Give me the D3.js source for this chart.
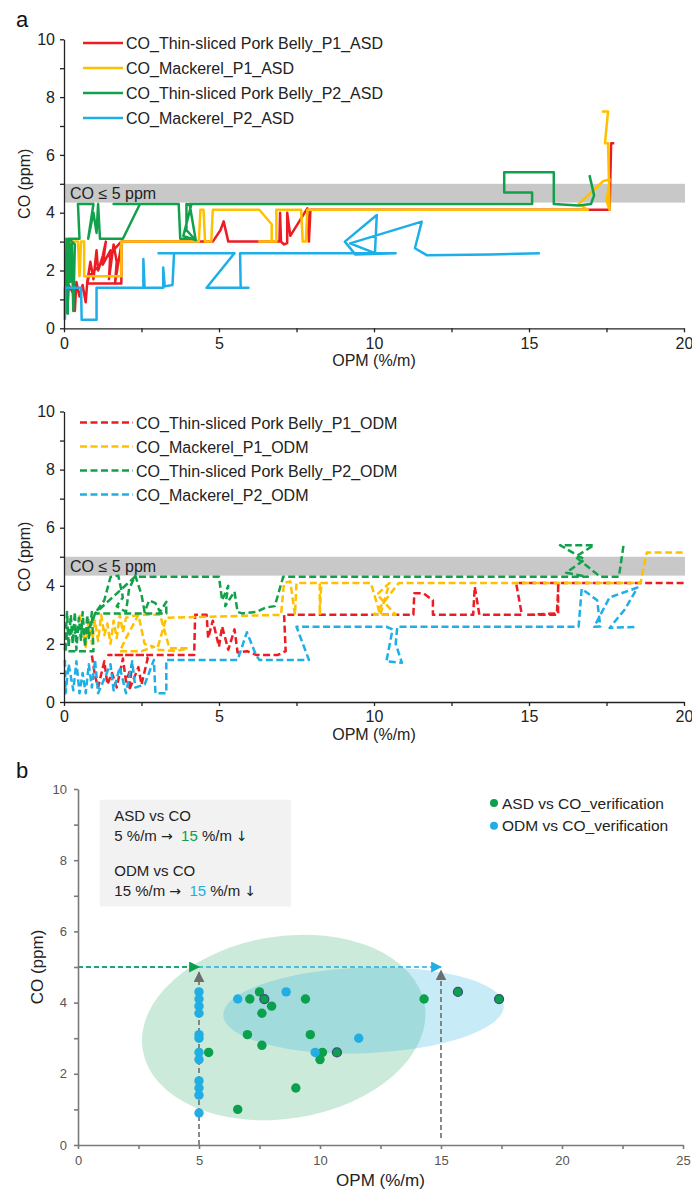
<!DOCTYPE html>
<html>
<head>
<meta charset="utf-8">
<script src="https://cdn.jsdelivr.net/npm/d3@7"></script>
<style>
body { margin: 0; background: #fff; }
text { font-family: "Liberation Sans", Arial, sans-serif; }
</style>
</head>
<body>
<div id="chart"></div>
<script>
// ---- data: panel a (ASD), [OPM, CO] ----
var asdNames = ["CO_Thin-sliced Pork Belly_P1_ASD", "CO_Mackerel_P1_ASD", "CO_Thin-sliced Pork Belly_P2_ASD", "CO_Mackerel_P2_ASD"];
var odmNames = ["CO_Thin-sliced Pork Belly_P1_ODM", "CO_Mackerel_P1_ODM", "CO_Thin-sliced Pork Belly_P2_ODM", "CO_Mackerel_P2_ODM"];
var lineColors = ["#ec1c24", "#ffc000", "#11a14b", "#1eaee8"];

var asdPork1 = [[0.1,0.5],[0.15,1.5],[0.3,1.2],[0.35,0.6],[0.4,1.6],[0.5,1.1],[0.6,1.5],[0.7,0.9],[0.75,1.6],[0.85,2.3],[0.95,1.7],[1.05,2.7],[1.1,2.0],[1.25,2.5],[1.35,3.0],[1.25,2.2],[1.5,2.7],[1.45,1.7],[1.6,2.9],[1.7,2.3],[1.65,1.6],[1.85,2.9],[1.85,1.55],[0.75,1.55],[0.8,1.8],[1.85,3.0],[4.8,3.0],[5.05,3.4],[5.15,3.7],[5.3,3.0],[6.4,3.0],[6.95,3.0],[6.97,4.0],[7.0,3.0],[7.1,2.9],[7.2,2.95],[7.2,4.0],[7.3,3.2],[7.85,4.15],[7.9,3.0],[7.95,4.1],[16.9,4.1],[17.6,4.1],[17.65,6.4],[17.75,6.4]];
var asdMack1 = [[0.05,1.5],[0.1,3.0],[0.45,3.0],[0.5,1.8],[0.55,3.0],[0.65,3.0],[0.65,1.8],[1.85,1.8],[1.85,3.0],[4.35,3.0],[4.4,4.1],[4.5,4.1],[4.55,3.0],[4.75,3.0],[4.8,4.1],[6.3,4.1],[6.7,3.6],[6.7,3.0],[6.3,3.0],[6.85,3.0],[6.85,4.1],[7.65,4.1],[7.7,3.0],[7.8,3.0],[7.85,4.1],[16.9,4.1],[16.6,4.3],[17.0,4.7],[17.4,5.1],[17.6,5.15],[17.5,4.4],[17.6,4.1],[17.55,6.4],[17.45,6.4],[17.55,7.5],[17.35,7.5]];
var asdPork2 = [[0.05,0.5],[0.08,3.1],[0.12,0.5],[0.16,3.1],[0.2,1.6],[0.25,3.0],[0.3,0.6],[0.35,2.9],[0.15,3.1],[0.5,3.1],[0.45,4.3],[0.95,4.3],[0.78,3.1],[0.95,4.0],[1.05,3.3],[1.1,4.3],[1.16,3.1],[1.9,3.1],[2.45,4.3],[1.6,4.3],[3.7,4.3],[3.75,3.1],[4.2,3.1],[3.95,3.4],[3.95,4.3],[4.1,4.25],[3.85,3.2],[4.25,3.05],[4.05,4.3],[15.1,4.3],[15.1,4.7],[14.2,4.7],[14.2,5.4],[15.7,5.4],[15.8,5.4],[15.8,4.3],[16.6,4.25],[17.0,4.3],[17.1,4.6],[16.95,5.3]];
var asdMack2 = [[0.03,0.3],[0.03,1.4],[0.55,1.4],[0.57,0.3],[1.05,0.3],[1.05,1.4],[2.56,1.4],[2.56,2.4],[2.6,1.4],[3.2,1.4],[3.2,2.1],[3.25,1.45],[3.5,1.5],[3.55,2.6],[3.05,2.6],[5.5,2.6],[4.6,1.4],[5.95,1.4],[5.7,1.4],[5.68,2.6],[10.7,2.6],[9.4,2.55],[9.06,3.0],[10.09,3.92],[10.03,2.6],[9.23,2.94],[11.54,3.69],[11.32,2.77],[11.7,2.53],[13.74,2.55],[15.35,2.6]];

// ---- data: panel a (ODM) ----
var odmPork1 = [[0.9,1.6],[1.0,0.9],[1.1,0.5],[1.3,1.4],[1.4,0.6],[1.55,1.0],[1.7,0.5],[1.9,1.5],[2.0,0.7],[2.2,1.3],[2.1,0.4],[2.4,1.2],[2.5,0.6],[2.7,1.5],[2.6,1.62],[1.43,1.62],[4.2,1.62],[4.23,3.0],[4.6,3.0],[4.65,2.2],[4.8,2.8],[5.0,1.9],[5.1,2.6],[5.3,1.8],[5.5,2.5],[5.6,1.7],[5.9,1.75],[6.2,1.62],[6.9,1.62],[7.15,1.75],[7.1,3.0],[8.6,3.0],[11.27,3.0],[11.3,3.74],[11.6,3.74],[11.9,3.5],[11.9,3.0],[13.2,3.0],[13.25,3.97],[13.4,3.0],[14.2,3.0],[14.77,3.0],[14.6,4.0],[14.6,4.1],[15.94,4.1],[15.94,3.0],[14.9,3.0],[15.9,3.05],[15.95,4.1],[20,4.1]];
var odmMack1 = [[0.5,3.0],[0.7,1.9],[0.8,2.9],[0.9,2.0],[1.0,2.8],[1.1,2.1],[1.2,3.0],[1.3,2.3],[1.4,2.7],[1.5,2.0],[1.6,2.8],[1.7,2.2],[1.8,3.0],[1.9,2.4],[2.0,2.9],[2.4,3.0],[2.6,2.0],[2.9,1.9],[2.5,1.75],[1.8,1.75],[2.0,2.2],[2.4,3.0],[3.1,3.0],[3.4,1.85],[4.0,1.85],[3.6,1.75],[3.0,1.8],[3.3,2.9],[7.0,3.0],[7.1,4.1],[7.3,4.15],[7.45,3.0],[7.5,4.1],[8.25,4.1],[8.25,3.0],[8.3,4.1],[9.9,4.1],[10.2,3.0],[10.5,4.1],[10.1,3.7],[10.7,3.0],[10.0,3.0],[10.8,4.1],[18.6,4.1],[18.8,5.15],[20,5.15]];
var odmPork2 = [[0.03,1.8],[0.1,3.1],[0.15,1.9],[0.22,3.0],[0.28,2.0],[0.35,3.1],[0.4,1.8],[0.48,2.9],[0.55,2.1],[0.6,3.1],[0.68,1.9],[0.75,3.0],[0.8,2.2],[0.9,3.1],[0.95,1.75],[0.05,1.75],[0.1,2.5],[0.3,2.3],[0.5,2.6],[0.7,2.4],[0.9,2.7],[1.0,3.05],[1.3,3.5],[1.5,4.3],[1.75,4.35],[1.9,3.6],[1.7,3.3],[2.0,3.1],[2.1,3.9],[2.3,4.35],[2.5,3.7],[2.6,3.1],[2.75,3.5],[2.95,3.4],[3.1,3.1],[3.3,3.45],[3.3,3.05],[1.0,3.05],[2.29,4.31],[5.0,4.31],[5.1,3.5],[5.3,4.0],[5.2,3.3],[5.5,3.8],[5.6,3.1],[5.75,3.05],[6.2,3.1],[6.5,3.25],[6.8,3.3],[7.07,4.31],[7.2,4.31],[16.9,4.31],[16.2,4.45],[16.8,4.9],[16.0,5.4],[17.1,5.4],[16.5,5.0],[17.3,4.31],[17.9,4.31],[18.05,5.4]];
var odmMack2 = [[0.03,1.45],[0.05,0.3],[0.15,1.3],[0.3,0.4],[0.4,1.4],[0.5,0.3],[0.6,1.0],[0.7,0.3],[0.8,1.3],[0.9,0.5],[1.0,1.45],[1.1,0.3],[1.3,0.8],[1.5,1.3],[1.6,0.4],[1.8,1.2],[2.0,0.3],[2.2,1.4],[2.3,0.5],[2.6,0.6],[2.9,1.45],[2.95,0.3],[3.3,0.3],[3.3,1.45],[5.6,1.45],[5.9,2.4],[6.2,1.6],[6.3,1.45],[7.9,1.45],[7.5,2.59],[10.4,2.59],[10.6,2.5],[10.4,1.4],[10.9,1.35],[10.7,2.0],[10.75,2.59],[16.6,2.59],[16.7,3.9],[17.2,3.5],[17.3,2.6],[17.1,2.59],[17.6,3.6],[18.5,3.94],[18.1,3.2],[17.6,2.55],[18.5,2.59]];

var asdSeries = [asdPork1, asdMack1, asdPork2, asdMack2];
var odmSeries = [odmPork1, odmMack1, odmPork2, odmMack2];

// ---- data: panel b ----
var asdX = [5.4, 6.6, 7.1, 7.5, 8.0, 7.6, 7.0, 7.6, 9.4, 9.6, 10.1, 10.0, 9.0, 14.3];
var asdY = [2.6, 1.0, 4.1, 4.3, 3.9, 3.7, 3.1, 2.8, 4.1, 3.1, 2.6, 2.4, 1.6, 4.1];
var odmX = [5, 5, 5, 5, 5, 5, 5, 5, 5, 5, 5, 5, 6.6, 8.6, 9.8, 11.6];
var odmY = [4.3, 4.1, 3.9, 3.7, 3.1, 3.0, 2.6, 2.4, 1.8, 1.6, 1.4, 0.9, 4.1, 4.3, 2.6, 3.0];
var bothX = [7.7, 10.7, 15.7, 17.4];
var bothY = [4.1, 2.6, 4.3, 4.1];

var W = 692, H = 1191;
var svg = d3.select("#chart").append("svg")
    .attr("width", W)
    .attr("height", H);

function linePanel(top, bottom, series, names, dashed, leg) {
    var x = d3.scaleLinear().domain([0, 20]).range([64, 684]);
    var y = d3.scaleLinear().domain([0, 10]).range([bottom, top]);
    var g = svg.append("g");

    g.append("rect")
        .attr("x", x(0)).attr("y", y(5))
        .attr("width", x(20) - x(0) + 1).attr("height", y(4.35) - y(5))
        .attr("fill", "#c8c8c8");
    g.append("text").attr("x", x(0) + 6).attr("y", y(5) + 15)
        .attr("font-size", 16).attr("fill", "#222").text("CO ≤ 5 ppm");

    var line = d3.line().x(function(d) { return x(d[0]); }).y(function(d) { return y(d[1]); });
    series.forEach(function(s, i) {
        g.append("path").attr("d", line(s))
            .attr("fill", "none")
            .attr("stroke", lineColors[i])
            .attr("stroke-width", 2.5)
            .attr("stroke-linejoin", "round")
            .attr("stroke-dasharray", dashed ? "7,3.5" : null);
    });

    var yAx = g.append("g").attr("transform", "translate(" + x(0) + ",0)")
        .call(d3.axisLeft(y).tickValues(d3.range(0, 11, 1)).tickSize(4).tickSizeOuter(0).tickPadding(5)
            .tickFormat(function(d) { return d % 2 == 0 ? d : ""; }));
    var xAx = g.append("g").attr("transform", "translate(0," + y(0) + ")")
        .call(d3.axisBottom(x).tickValues(d3.range(0, 20.1, 2.5)).tickSize(4).tickSizeOuter(0).tickPadding(5)
            .tickFormat(function(d) { return d % 5 == 0 ? d : ""; }));
    [yAx, xAx].forEach(function(a) {
        a.selectAll("text").attr("font-size", 16).attr("fill", "#222")
            .style("font-family", "'Liberation Sans', Arial, sans-serif");
        a.selectAll("path, line").attr("stroke", "#222").attr("stroke-width", 1.3);
    });

    g.append("text").attr("x", (x(0) + x(20)) / 2).attr("y", y(0) + 38)
        .attr("text-anchor", "middle").attr("font-size", 16).attr("fill", "#222").text("OPM (%/m)");
    g.append("text").attr("transform", "translate(30," + (top + bottom) / 2 + ") rotate(-90)")
        .attr("text-anchor", "middle").attr("font-size", 16).attr("fill", "#222").text("CO (ppm)");

    names.forEach(function(n, i) {
        var ly = leg.y0 + i * leg.dy;
        g.append("line").attr("x1", leg.x0).attr("x2", leg.x1).attr("y1", ly).attr("y2", ly)
            .attr("stroke", lineColors[i]).attr("stroke-width", 2.5)
            .attr("stroke-dasharray", dashed ? "7,3.5" : null);
        g.append("text").attr("x", leg.x1 + 3).attr("y", ly + 6)
            .attr("font-size", 16).attr("fill", "#222").text(n);
    });
}

linePanel(39.3, 328.3, asdSeries, asdNames, false, {x0: 83, x1: 123, y0: 43, dy: 25});
linePanel(411.5, 702, odmSeries, odmNames, true, {x0: 80, x1: 133, y0: 422.5, dy: 24});

svg.append("text").attr("x", 16).attr("y", 27).attr("font-size", 22).attr("fill", "#111").text("a");
svg.append("text").attr("x", 16).attr("y", 778).attr("font-size", 22).attr("fill", "#111").text("b");

// ---- panel b ----
var bx = d3.scaleLinear().domain([0, 25]).range([78, 683]);
var by = d3.scaleLinear().domain([0, 10]).range([1145, 789]);
var gb = svg.append("g");
var green = "#0ba04c", blue = "#22aee2", gray = "#6d6d6d";

gb.append("rect").attr("x", bx(0.9)).attr("y", by(9.7)).attr("width", bx(8.8) - bx(0.9)).attr("height", by(6.7) - by(9.7))
    .attr("fill", "#f2f2f2");
var info = [
    {y: 9.1, parts: [["ASD vs CO", "#222"]]},
    {y: 8.55, parts: [["5 %/m ", "#222"], ["→", "#222", 1], ["  15", green], [" %/m ", "#222"], ["↓", "#222", 1]]},
    {y: 7.55, parts: [["ODM vs CO", "#222"]]},
    {y: 7.0, parts: [["15 %/m ", "#222"], ["→", "#222", 1], ["  15", blue], [" %/m ", "#222"], ["↓", "#222", 1]]}
];
info.forEach(function(r) {
    var t = gb.append("text").attr("x", bx(1.5)).attr("y", by(r.y)).attr("font-size", 15)
        .attr("xml:space", "preserve").style("white-space", "pre");
    r.parts.forEach(function(p) {
        var s = t.append("tspan").attr("fill", p[1]).text(p[0]);
        if (p[2]) s.style("font-family", "'DejaVu Sans', sans-serif").attr("font-size", 14);
    });
});

function ell(cx, cy, rx, ry, rot, fill) {
    gb.append("ellipse")
        .attr("cx", bx(cx)).attr("cy", by(cy))
        .attr("rx", bx(cx + rx) - bx(cx)).attr("ry", by(cy) - by(cy + ry))
        .attr("transform", "rotate(" + rot + "," + bx(cx) + "," + by(cy) + ")")
        .attr("fill", fill);
}
ell(8.5, 3.3, 5.9, 2.56, -9, "rgba(20,160,80,0.22)");
ell(11.8, 3.78, 5.8, 1.2, -2, "rgba(34,174,226,0.25)");

var defs = svg.append("defs");
[["arG", green], ["arB", blue], ["arK", gray]].forEach(function(m) {
    defs.append("marker").attr("id", m[0]).attr("viewBox", "0 0 10 10").attr("refX", 9).attr("refY", 5)
        .attr("markerWidth", 11).attr("markerHeight", 11).attr("markerUnits", "userSpaceOnUse").attr("orient", "auto")
        .append("path").attr("d", "M0,0L10,5L0,10Z").attr("fill", m[1]);
});
function arrow(x1, y1, x2, y2, c, id) {
    gb.append("line").attr("x1", bx(x1)).attr("y1", by(y1)).attr("x2", bx(x2)).attr("y2", by(y2))
        .attr("stroke", c).attr("stroke-width", 1.6).attr("stroke-dasharray", "5,3")
        .attr("marker-end", "url(#" + id + ")");
}
arrow(0, 5, 15, 5, blue, "arB");
arrow(0, 5, 5, 5, green, "arG");
arrow(5, 0, 5, 4.85, gray, "arK");
arrow(15, 0.2, 15, 4.9, gray, "arK");

gb.selectAll(".ga").data(asdX).enter().append("circle")
    .attr("cx", function(d) { return bx(d); }).attr("cy", function(d, i) { return by(asdY[i]); })
    .attr("r", 4.7).attr("fill", green);
gb.selectAll(".gb").data(odmX).enter().append("circle")
    .attr("cx", function(d) { return bx(d); }).attr("cy", function(d, i) { return by(odmY[i]); })
    .attr("r", 4.7).attr("fill", blue);
gb.selectAll(".gc").data(bothX).enter().append("circle")
    .attr("cx", function(d) { return bx(d); }).attr("cy", function(d, i) { return by(bothY[i]); })
    .attr("r", 4.5).attr("fill", green).attr("stroke", "#3c4a7c").attr("stroke-width", 1.2);

var byAx = gb.append("g").attr("transform", "translate(" + bx(0) + ",0)")
    .call(d3.axisLeft(by).tickValues(d3.range(0, 11, 1)).tickSize(4).tickSizeOuter(0).tickPadding(7)
        .tickFormat(function(d) { return d % 2 == 0 ? d : ""; }));
var bxAx = gb.append("g").attr("transform", "translate(0," + by(0) + ")")
    .call(d3.axisBottom(bx).tickValues(d3.range(0, 25.1, 2.5)).tickSize(4).tickSizeOuter(0).tickPadding(7)
        .tickFormat(function(d) { return d % 5 == 0 ? d : ""; }));
[byAx, bxAx].forEach(function(a) {
    a.selectAll("text").attr("font-size", 13).attr("fill", "#555")
        .style("font-family", "'Liberation Sans', Arial, sans-serif");
    a.selectAll("path, line").attr("stroke", "#7a7a7a").attr("stroke-width", 1.6);
});
gb.append("text").attr("x", bx(12.5)).attr("y", by(0) + 41).attr("text-anchor", "middle")
    .attr("font-size", 17).attr("fill", "#222").text("OPM (%/m)");
gb.append("text").attr("transform", "translate(43," + by(5) + ") rotate(-90)").attr("text-anchor", "middle")
    .attr("font-size", 17).attr("fill", "#222").text("CO (ppm)");

var bLeg = [["ASD vs CO_verification", green], ["ODM vs CO_verification", blue]];
bLeg.forEach(function(l, i) {
    var ly = 803 + i * 22.7;
    gb.append("circle").attr("cx", 494).attr("cy", ly).attr("r", 4).attr("fill", l[1]);
    gb.append("text").attr("x", 502).attr("y", ly + 5.5).attr("font-size", 15.5).attr("fill", "#222").text(l[0]);
});
</script>
</body>
</html>
